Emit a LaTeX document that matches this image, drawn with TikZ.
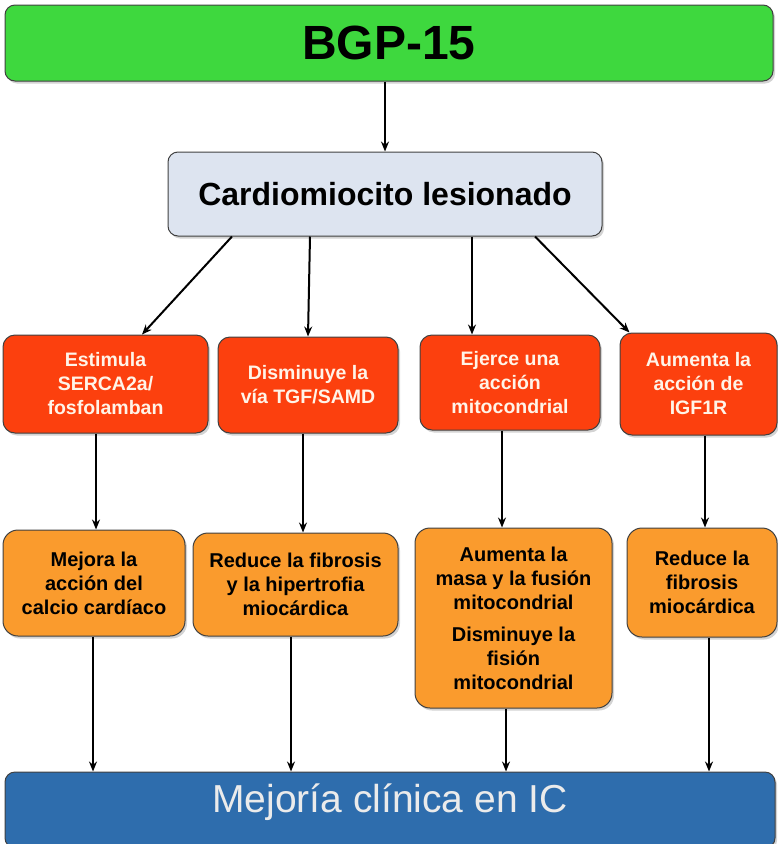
\documentclass[tikz,border=0pt]{standalone}
\usepackage{fontspec}
\setmainfont{Liberation Sans}
\usepackage{tikz}
\usetikzlibrary{arrows.meta,calc,shadows}

\definecolor{verde}{RGB}{62,216,62}
\definecolor{celeste}{RGB}{221,228,240}
\definecolor{rojo}{RGB}{252,64,14}
\definecolor{naranja}{RGB}{250,155,45}
\definecolor{azul}{RGB}{46,109,173}
\definecolor{crema}{RGB}{255,244,232}

\begin{document}
\begin{tikzpicture}[x=1pt,y=-1pt,
  caja/.style={draw=black!75, line width=1pt, rounded corners=12pt, align=center, inner sep=0pt,
    drop shadow={shadow xshift=2pt, shadow yshift=-2.5pt, opacity=0.35}},
  rojobox/.style={caja, fill=rojo, text=crema, font=\fontsize{19.5}{24}\selectfont\bfseries},
  naranjabox/.style={caja, fill=naranja, text=black, rounded corners=15pt, font=\fontsize{20}{24}\selectfont\bfseries},
  flecha/.style={line width=2pt, -{Stealth[length=10pt,width=8pt]}}]

\useasboundingbox (0,0) rectangle (778,844);

\node [caja, fill=verde, rounded corners=10pt, minimum width=768pt, minimum height=76pt, font=\fontsize{48}{50}\selectfont\bfseries] (bgp) at (389,43) {BGP-15};
\node [caja, fill=celeste, rounded corners=10pt, minimum width=434pt, minimum height=84pt, font=\fontsize{32}{36}\selectfont\bfseries] (cardio) at (385,194) {Cardiomiocito lesionado};

\node [rojobox, minimum width=205pt, minimum height=98pt] (r1) at (105.5,384) {Estimula\\SERCA2a/\\fosfolamban};
\node [rojobox, minimum width=180pt, minimum height=96pt] (r2) at (308,385) {Disminuye la\\vía TGF/SAMD};
\node [rojobox, minimum width=180pt, minimum height=95pt] (r3) at (510,382.5) {Ejerce una\\acción\\mitocondrial};
\node [rojobox, minimum width=157pt, minimum height=102pt] (r4) at (698.5,384) {Aumenta la\\acción de\\IGF1R};

\node [naranjabox, minimum width=182pt, minimum height=106pt] (o1) at (94,583) {Mejora la\\acción del\\calcio cardíaco};
\node [naranjabox, minimum width=205pt, minimum height=103pt] (o2) at (295.5,584.5) {Reduce la fibrosis\\y la hipertrofia\\miocárdica};
\node [naranjabox, minimum width=197pt, minimum height=180pt] (o3) at (513.5,618) {Aumenta la\\masa y la fusión\\mitocondrial\\[8pt]Disminuye la\\fisión\\mitocondrial};
\node [naranjabox, minimum width=150pt, minimum height=109pt] (o4) at (702,582.5) {Reduce la\\fibrosis\\miocárdica};

\node [caja, fill=azul, text=black!8, rounded corners=10pt, minimum width=770pt, minimum height=76pt, text height=28pt, text depth=24pt, font=\fontsize{39}{42}\selectfont] (mejora) at (390,810) {Mejoría clínica en IC};

% flechas
\draw [flecha] (bgp.south -| cardio.north) -- (cardio.north);

\draw [flecha] ($(cardio.south)+(-153,0)$) -- ($(r1.north)+(36.5,0)$);
\draw [flecha] ($(cardio.south)+(-75,0)$) -- (r2.north);
\draw [flecha] ($(cardio.south)+(87,0)$) -- ($(r3.north)+(-38,0)$);
\draw [flecha] ($(cardio.south)+(150,0)$) -- ($(r4.north west)+(10,0)$);

\draw [flecha] (r1.south -| 96,0) -- (o1.north -| 96,0);
\draw [flecha] (r2.south -| 303,0) -- (o2.north -| 303,0);
\draw [flecha] (r3.south -| 502,0) -- (o3.north -| 502,0);
\draw [flecha] (r4.south -| 705,0) -- (o4.north -| 705,0);

\draw [flecha] (o1.south -| 93,0) -- (mejora.north -| 93,0);
\draw [flecha] (o2.south -| 291,0) -- (mejora.north -| 291,0);
\draw [flecha] (o3.south -| 506,0) -- (mejora.north -| 506,0);
\draw [flecha] (o4.south -| 709,0) -- (mejora.north -| 709,0);

\end{tikzpicture}
\end{document}
